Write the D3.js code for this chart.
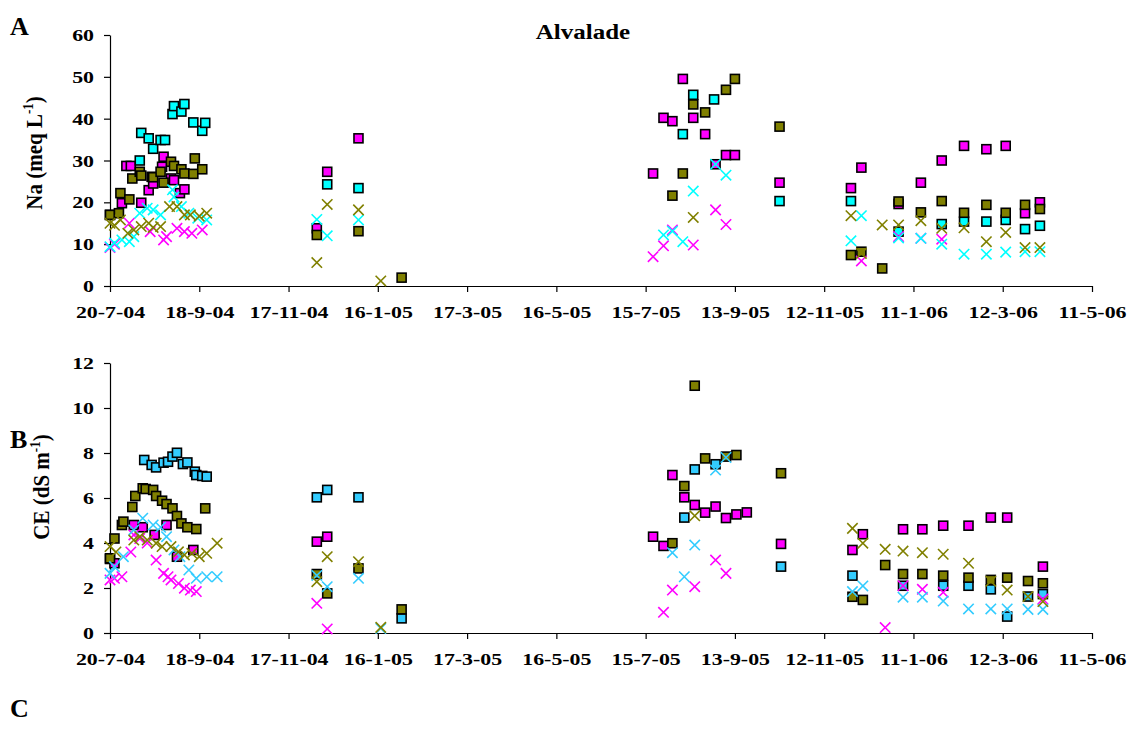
<!DOCTYPE html>
<html><head><meta charset="utf-8">
<script src="https://cdn.jsdelivr.net/npm/d3@7"></script>
<style>
body{margin:0;background:#fff}
svg{display:block}
text{font-family:"Liberation Serif","Times New Roman",serif;font-weight:bold;fill:#000}
</style>
</head><body>
<svg id="chart" width="1131" height="729"></svg>
<script>
// ---------- DATA ----------
const startDate = "2004-07-20";
const tickDays = [0,60,120,180,240,300,360,420,480,540,600,660];
const tickLabels = ["20-7-04","18-9-04","17-11-04","16-1-05","17-3-05","16-5-05","15-7-05","13-9-05","12-11-05","11-1-06","12-3-06","11-5-06"];
const naTicks = [0,10,20,30,40,50,60];
const ceTicks = [0,2,4,6,8,10,12];
const seriesNames = ["magentaSq","cyanSq","oliveSq","magentaX","cyanX","oliveX"];

// each point: [days since startDate, value]
const naMagentaSq = [[0,17.0],[8,19.8],[11,28.7],[14,28.7],[21,19.9],[26,22.9],[29,24.5],[35,28.5],[36,30.9],[41,25.7],[43,25.3],[47,22.2],[50,23.1],[139,13.8],[146,27.3],[167,35.3],[365,26.9],[372,40.2],[378,39.4],[385,49.5],[392,40.2],[400,36.3],[407,29.1],[414,31.3],[420,31.3],[450,24.7],[498,23.4],[505,28.3],[530,19.6],[545,24.7],[559,30.0],[574,33.5],[589,32.7],[602,33.5],[615,17.4],[625,20.0]];
const naCyanSq = [[20,30.0],[21,36.6],[26,35.3],[29,32.8],[34,34.9],[37,34.9],[42,41.1],[43,43.0],[48,41.7],[50,43.5],[56,39.1],[62,37.1],[64,39.0],[146,24.3],[167,23.4],[385,36.3],[392,45.7],[406,44.6],[450,20.3],[498,20.3],[530,13.0],[559,14.8],[574,15.4],[589,15.4],[602,15.8],[615,13.6],[625,14.4]];
const naOliveSq = [[0,17.0],[6,17.4],[7,22.2],[13,20.7],[15,25.7],[20,27.3],[21,26.4],[28,26.1],[29,26.0],[34,27.3],[36,24.7],[41,29.7],[43,28.7],[48,27.9],[50,26.9],[56,26.8],[57,30.5],[62,27.9],[139,12.2],[167,13.1],[196,2.0],[378,21.6],[385,26.9],[392,43.4],[400,41.5],[414,46.9],[420,49.5],[450,38.1],[498,7.4],[505,8.2],[519,4.2],[530,20.2],[545,17.6],[559,20.3],[574,17.5],[589,19.4],[602,17.5],[615,19.4],[625,18.4]];
const naMagentaX = [[0,9.2],[3,10.0],[13,15.0],[27,13.0],[36,11.0],[38,11.8],[45,13.8],[50,13.0],[55,12.6],[62,13.4],[365,7.0],[372,9.6],[378,13.4],[392,9.8],[407,18.2],[414,14.7],[505,6.0],[530,11.8],[545,11.4],[559,11.2]];
const naCyanX = [[0,9.4],[3,10.3],[8,11.0],[13,10.6],[16,11.8],[20,17.4],[25,18.6],[29,18.2],[34,17.0],[42,23.0],[43,21.3],[48,19.0],[53,17.4],[59,16.2],[65,15.8],[139,15.9],[146,12.0],[167,15.8],[372,12.2],[378,13.1],[385,10.6],[392,22.7],[407,29.1],[414,26.5],[498,10.8],[505,16.8],[530,11.5],[545,11.4],[559,10.0],[574,7.6],[589,7.6],[602,8.1],[615,8.2],[625,8.2]];
const naOliveX = [[0,15.0],[3,14.5],[7,15.8],[12,12.6],[16,13.4],[21,14.2],[26,15.0],[29,14.0],[34,14.2],[40,19.0],[45,19.0],[50,17.0],[54,17.0],[60,16.7],[65,17.4],[139,5.6],[146,19.5],[167,18.2],[182,1.2],[392,16.4],[498,16.8],[505,7.8],[519,14.6],[530,14.6],[545,15.6],[559,13.8],[574,13.9],[589,10.6],[602,12.8],[615,9.2],[625,9.2]];

const ceMagentaSq = [[0,3.29],[3,3.1],[16,4.8],[22,4.7],[30,4.36],[38,4.8],[45,3.39],[56,3.69],[139,4.06],[146,4.28],[365,4.28],[372,3.87],[378,7.02],[386,6.03],[393,5.69],[400,5.35],[407,5.62],[414,5.11],[421,5.27],[428,5.36],[451,3.96],[499,3.69],[506,4.39],[533,4.61],[546,4.61],[560,4.77],[577,4.77],[592,5.13],[603,5.13],[627,2.95]];
const ceCyanSq = [[23,7.69],[28,7.47],[31,7.36],[36,7.57],[39,7.61],[42,7.84],[45,8.01],[49,7.51],[52,7.58],[57,7.17],[58,7.02],[62,6.98],[65,6.95],[139,6.03],[146,6.36],[167,6.03],[196,0.65],[386,5.13],[393,7.27],[407,7.5],[451,2.95],[499,2.55],[533,2.1],[560,2.1],[577,2.1],[592,1.94],[603,0.73],[617,1.62],[627,1.73]];
const ceOliveSq = [[0,3.32],[3,4.2],[8,4.8],[9,4.95],[15,5.6],[17,6.09],[22,6.43],[24,6.4],[29,6.36],[31,6.09],[35,5.88],[38,5.73],[42,5.54],[45,5.2],[48,4.87],[52,4.7],[58,4.62],[64,5.54],[139,2.62],[146,1.76],[167,2.87],[196,1.05],[378,3.99],[386,6.53],[393,10.99],[400,7.76],[414,7.84],[421,7.91],[451,7.1],[499,1.61],[506,1.47],[521,3.02],[533,2.62],[546,2.62],[560,2.55],[577,2.46],[592,2.36],[603,2.46],[617,2.31],[627,2.21]];
const ceMagentaX = [[0,2.36],[3,2.43],[8,2.5],[14,3.6],[16,4.36],[20,4.2],[25,4.0],[31,3.24],[36,2.65],[39,2.5],[41,2.36],[46,2.2],[50,1.99],[54,1.91],[58,1.84],[139,1.32],[146,0.18],[372,0.92],[378,1.91],[393,2.06],[407,3.24],[414,2.65],[521,0.24],[533,2.1],[546,1.94],[560,1.81],[627,1.51]];
const ceCyanX = [[0,2.65],[3,2.95],[9,3.39],[16,4.58],[22,5.1],[29,4.8],[34,4.7],[38,4.28],[43,3.69],[47,3.39],[53,2.8],[58,2.43],[65,2.5],[72,2.5],[139,2.56],[146,2.06],[167,2.43],[182,0.2],[378,3.57],[386,2.5],[393,3.91],[407,7.24],[414,7.8],[499,1.84],[506,2.09],[533,1.59],[546,1.59],[560,1.42],[577,1.07],[592,1.07],[603,1.07],[617,1.05],[627,1.05]];
const ceOliveX = [[0,3.84],[4,3.6],[16,4.13],[20,4.28],[25,4.13],[31,3.99],[35,3.84],[41,3.84],[46,3.61],[50,3.47],[55,3.54],[60,3.39],[65,3.54],[72,3.99],[139,2.28],[146,3.39],[167,3.17],[182,0.25],[393,5.21],[499,4.65],[506,3.99],[521,3.72],[533,3.64],[546,3.57],[560,3.5],[577,3.1],[592,2.3],[603,1.91],[617,1.62],[627,1.4]];

// ---------- DRAW ----------
const svg = d3.select("#chart");
const t0 = d3.timeParse("%Y-%m-%d")(startDate);
const dayToDate = d => d3.timeDay.offset(t0, d);
const SX = 1.25; // horizontal stretch of text as in reference

function stretch(sel, s) {
  sel.each(function () {
    const t = d3.select(this);
    const x = +t.attr("x") || 0, y = +t.attr("y") || 0;
    t.attr("transform", `translate(${x},${y}) scale(${s},1) translate(${-x},${-y})`);
  });
}

const x = d3.scaleTime()
  .domain([dayToDate(tickDays[0]), dayToDate(tickDays[tickDays.length - 1])])
  .range([110, 1092]);

const panels = [
  { yDomain: [0, 60], yRange: [286, 35], ticks: naTicks, cyan: "#00FFFF",
    label: ["Na (meq L", "-1", ")"], labelX: 42, labelY: 153,
    letter: "A", letterY: 35,
    data: [naMagentaSq, naCyanSq, naOliveSq, naMagentaX, naCyanX, naOliveX] },
  { yDomain: [0, 12], yRange: [633, 363], ticks: ceTicks, cyan: "#33CCFF",
    label: ["CE (dS m", "-1", ")"], labelX: 49, labelY: 487,
    letter: "B", letterY: 448,
    data: [ceMagentaSq, ceCyanSq, ceOliveSq, ceMagentaX, ceCyanX, ceOliveX] }
];

panels.forEach(p => {
  const y = d3.scaleLinear().domain(p.yDomain).range(p.yRange);
  const g = svg.append("g");
  const y0 = p.yRange[0];

  // y axis
  const ya = g.append("g").attr("transform", "translate(110,0)")
    .call(d3.axisLeft(y).tickValues(p.ticks).tickSize(6).tickSizeOuter(0).tickPadding(10));
  ya.select(".domain").attr("stroke", "#000").attr("stroke-width", 1.2);
  ya.selectAll(".tick line").attr("stroke", "#000").attr("stroke-width", 1.2);
  ya.selectAll(".tick text").style("font-size", "17.5px").attr("fill", "#000")
    .style("font-family", '"Liberation Serif","Times New Roman",serif').style("font-weight", "bold");
  stretch(ya.selectAll(".tick text"), SX);

  // x axis
  const xa = g.append("g").attr("transform", `translate(0,${y0})`)
    .call(d3.axisBottom(x).tickValues(tickDays.map(dayToDate))
      .tickFormat((d, i) => tickLabels[i]).tickSize(6).tickSizeOuter(0));
  xa.select(".domain").attr("stroke", "#000").attr("stroke-width", 1.2);
  xa.selectAll(".tick line").attr("stroke", "#000").attr("stroke-width", 1.2);
  xa.selectAll(".tick text").style("font-size", "17.5px").attr("fill", "#000")
    .style("font-family", '"Liberation Serif","Times New Roman",serif').style("font-weight", "bold")
    .attr("y", 32).attr("dy", 0);
  stretch(xa.selectAll(".tick text"), SX);

  // y label (rotated, slightly thickened horizontally)
  const lab = g.append("text")
    .attr("transform", `translate(${p.labelX},${p.labelY}) scale(1.12,1) rotate(-90)`)
    .attr("text-anchor", "middle").style("font-size", "21px");
  lab.append("tspan").text(p.label[0]);
  lab.append("tspan").attr("dy", -8).style("font-size", "13px").text(p.label[1]);
  lab.append("tspan").attr("dy", 8).text(p.label[2]);

  // panel letter
  g.append("text").attr("x", 10).attr("y", p.letterY).style("font-size", "26px").text(p.letter);

  const colors = ["#FF00FF", p.cyan, "#808000", "#FF00FF", p.cyan, "#808000"];
  // squares
  [0, 1, 2].forEach(k => {
    g.append("g").selectAll("rect").data(p.data[k]).join("rect")
      .attr("x", d => x(dayToDate(d[0])) - 4.5)
      .attr("y", d => y(d[1]) - 4.5)
      .attr("width", 9).attr("height", 9)
      .attr("fill", colors[k]).attr("stroke", "#000").attr("stroke-width", 1.6);
  });
  // crosses
  [3, 4, 5].forEach(k => {
    g.append("g").selectAll("path").data(p.data[k]).join("path")
      .attr("d", d => {
        const cx = x(dayToDate(d[0])), cy = y(d[1]), r = 5.2;
        return `M${cx - r},${cy - r}L${cx + r},${cy + r}M${cx - r},${cy + r}L${cx + r},${cy - r}`;
      })
      .attr("stroke", colors[k]).attr("stroke-width", 1.6).attr("fill", "none");
  });
});

// title and panel C
const title = svg.append("text").attr("x", 583).attr("y", 39).attr("text-anchor", "middle")
  .style("font-size", "20px").text("Alvalade");
stretch(title, SX);
svg.append("text").attr("x", 10).attr("y", 717).style("font-size", "26px").text("C");
</script>
</body></html>
